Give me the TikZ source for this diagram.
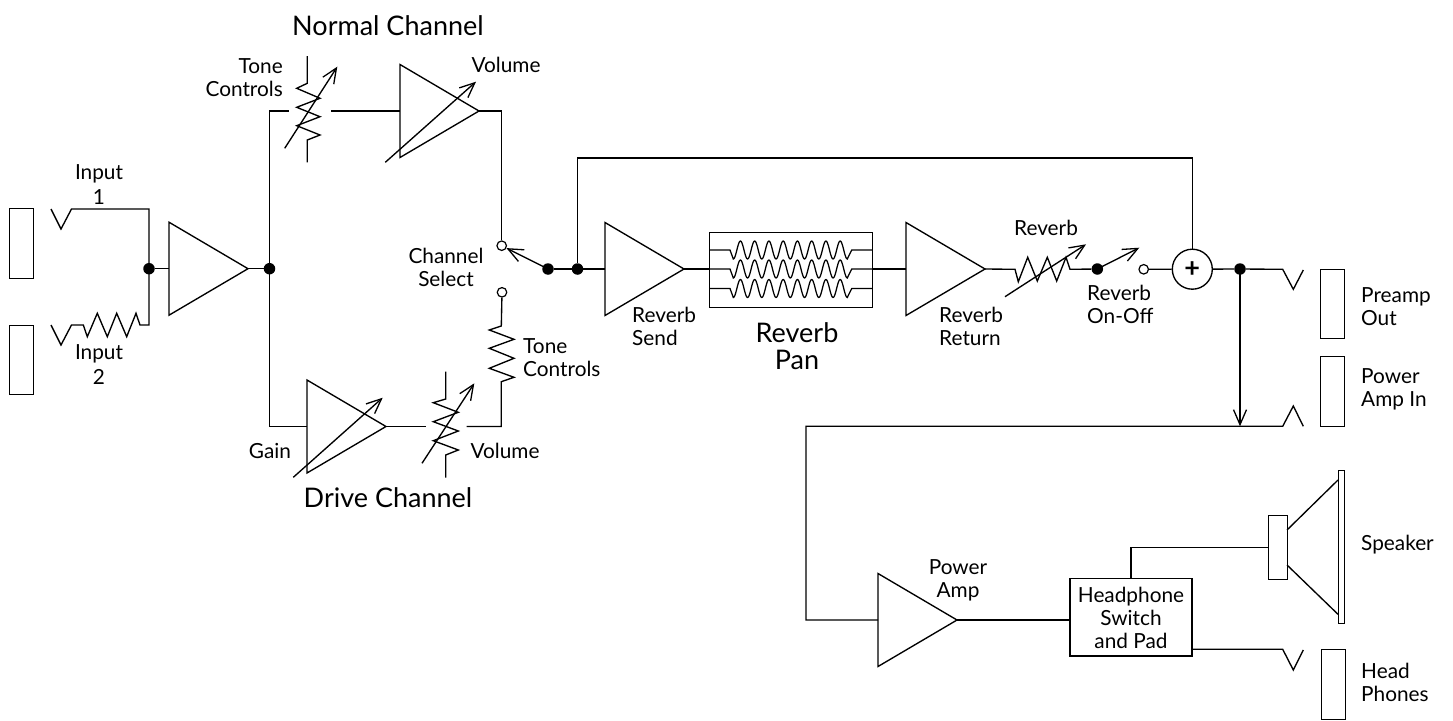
\documentclass[tikz,border=0pt]{standalone}
\usepackage{fontspec}
\setmainfont{Lato}
\usetikzlibrary{arrows.meta}
\tikzset{
  wire/.style={line width=1.35pt,line join=miter,black},
  ctrl/.style={wire,-{Straight Barb[length=15pt,width=13pt,line width=1.3pt]}},
  dotnode/.style={circle,fill=black,inner sep=0pt,minimum size=11.5pt},
  opennode/.style={circle,draw=black,line width=1.2pt,fill=white,inner sep=0pt,minimum size=9.5pt},
  boxnode/.style={draw=black,line width=1.35pt,fill=white,inner sep=0pt},
  lab/.style={inner sep=0pt,font=\fontsize{20.8}{23}\selectfont,text=black},
  big/.style={inner sep=0pt,font=\fontsize{27}{27}\selectfont,text=black}
}
\newcommand{\ampblock}[3]{%
  \coordinate (#1-in) at (#2,#3);
  \coordinate (#1-out) at (#2+79,#3);
  \draw[wire] (#2,#3-46.5) -- (#2+79,#3) -- (#2,#3+46.5) -- cycle;
}
\newcommand{\panline}[1]{%
  \draw[wire,line width=1.25pt] (709.5,#1) -- (730,#1) -- (733.3,#1+9)
    -- plot[domain=733.3:847.3,samples=161,variable=\t] ({\t},{#1+9*cos(25.263*(\t-733.3))})
    -- (851.7,#1) -- (872.5,#1);
}
\begin{document}
\begin{tikzpicture}[x=1pt,y=-1pt]
\useasboundingbox (0,0) rectangle (1453,720);

% jacks
\node[boxnode,minimum width=23.5pt,minimum height=69.5pt] (j1) at (21.5,243.5) {};
\node[boxnode,minimum width=23.5pt,minimum height=69.5pt] (j2) at (21.5,360) {};
\node[boxnode,minimum width=23.5pt,minimum height=69.5pt] (j3) at (1332.5,304) {};
\node[boxnode,minimum width=23.5pt,minimum height=69.5pt] (j4) at (1332.5,391.5) {};
\node[boxnode,minimum width=23.5pt,minimum height=69.5pt] (j5) at (1333.5,684.5) {};

% amplifiers
\ampblock{a1}{169}{268.7}
\ampblock{a2}{400}{111}
\ampblock{a3}{307}{426.5}
\ampblock{a4}{605}{269}
\ampblock{a5}{906}{269}
\ampblock{a6}{878}{620}

% junctions
\node[dotnode] (d1) at (149,268.7) {};
\node[dotnode] (d2) at (269.5,268.7) {};
\node[dotnode] (d3) at (548,269) {};
\node[dotnode] (d4) at (577.5,269) {};
\node[dotnode] (d5) at (1097.3,269) {};
\node[dotnode] (d6) at (1240,269) {};
\node[opennode] (s1) at (501.7,245.7) {};
\node[opennode] (s2) at (502,292.3) {};
\node[opennode] (s3) at (1143.7,269.3) {};
\node[circle,draw=black,line width=1.35pt,inner sep=0pt,minimum size=40pt,font=\fontsize{27}{27}\selectfont\bfseries] (sum) at (1192.3,269.2) {+};
\coordinate (x1) at (149,209);
\coordinate (x2) at (149,325);
\coordinate (x3) at (269.5,111);
\coordinate (x4) at (269.5,426.5);
\coordinate (x5) at (501.7,111);
\coordinate (x6) at (577.5,158);
\coordinate (x7) at (1192.3,158);
\coordinate (x8) at (1240,426.3);
\coordinate (x9) at (806,426.3);
\coordinate (x10) at (806,620);
\coordinate (n1) at (288.7,111);
\coordinate (n2) at (331,111);
\coordinate (n3) at (426,426.5);
\coordinate (n4) at (466.7,426.5);
\coordinate (n5) at (501.3,426.5);

% input side
\draw[wire] (51,209) -- (61,229) -- (71.5,209) -- (x1) -- (x2) -- (140,325) -- (136,313.3) -- (126.7,336.7) -- (116.7,313.3) -- (107.3,336.7) -- (97.3,313.3) -- (87.3,336.7) -- (83.3,325) -- (71.5,325) -- (61,345) -- (51,325);
\draw[wire] (d1) -- (a1-in);
\draw[wire] (a1-out) -- (d2);
\draw[wire] (n1) -- (x3) -- (x4) -- (a3-in);

% normal channel
\draw[wire] (n2) -- (a2-in);
\draw[wire] (a2-out) -- (x5) -- (s1);
\draw[wire] (307.3,56) -- (307.3,83.3) -- (296.7,88.3) -- (320,98.3) -- (296.7,107.3) -- (320,116.7) -- (296.7,125.7) -- (320,135) -- (307.3,140) -- (307.3,162.3);
\draw[ctrl] (284.7,148.3) -- (337.3,66.7);
\draw[ctrl] (385.3,162.3) -- (476,81.7);

% drive channel
\draw[wire] (a3-out) -- (n3);
\draw[wire] (n4) -- (n5) -- (501.3,381.7) -- (514,377.3) -- (489.3,368.3) -- (514,358.3) -- (489.3,348.3) -- (514,339.3) -- (489.3,330) -- (501.3,326) -- (s2);
\draw[wire] (445.7,371.7) -- (445.7,399) -- (433.3,402.7) -- (458.3,412.3) -- (433.3,421.7) -- (458.3,431) -- (433.3,440.7) -- (458.3,450) -- (445.7,455) -- (445.7,477.7);
\draw[ctrl] (422,463.3) -- (474.3,383.3);
\draw[ctrl] (293.3,477.3) -- (382.7,397.7);

% channel select
\draw[ctrl] (d3.center) -- (s1);
\draw[wire] (d3) -- (d4);
\draw[wire] (d4) -- (a4-in);
\draw[wire] (d4) -- (x6) -- (x7) -- (sum);

% reverb
\node[boxnode,minimum width=163.5pt,minimum height=74.5pt] (pan) at (791,270) {};
\draw[wire] (a4-out) -- (pan.west |- a4-out);
\draw[wire] (pan.east |- a5-in) -- (a5-in);
\panline{250}
\panline{269}
\panline{288.5}
\draw[wire] (a5-out) -- (1015,269.3) -- (1018.3,281.7) -- (1027.7,257.3) -- (1037.3,281) -- (1047.3,257.3) -- (1056.7,281) -- (1066,257.3) -- (1070,269.3) -- (d5);
\draw[ctrl] (1005,296.7) -- (1086,244.3);
\draw[ctrl] (d5.center) -- (1139.3,247.7);
\draw[wire] (s3) -- (sum);
\draw[wire] (sum) -- (d6);

% outputs
\draw[wire] (d6) -- (1282.7,269.3) -- (1293.3,289.3) -- (1303.3,270);
\draw[ctrl] (d6.center) -- (x8);
\draw[wire] (1303.3,426.3) -- (1293.3,406) -- (1282.7,426.3) -- (x9) -- (x10) -- (a6-in);

% power section
\node[boxnode,minimum width=122pt,minimum height=77.5pt] (hp) at (1131,617.2) {};
\draw[wire] (a6-out) -- (hp.west |- a6-out);
\node[boxnode,minimum width=18.5pt,minimum height=64.5pt] (mag) at (1278,547.5) {};
\node[boxnode,minimum width=6.5pt,minimum height=152.5pt] (cone) at (1341.5,547) {};
\draw[wire] (hp.north) -- (hp.north |- mag.west) -- (mag.west);
\draw[wire] (1287,530) -- (1338,480);
\draw[wire] (1287,565) -- (1338,614.3);
\draw[wire] (hp.east |- 0,649.3) -- (1282.7,649.3) -- (1293.3,670) -- (1303.3,650);

% labels
\node[big] (t1) at (388,26) {Normal Channel};
\node[big] (t2) at (388,498) {Drive Channel};
\node[big,align=center] (t3) at (797,346) {Reverb\\Pan};
\node[lab,align=center] (l1) at (99,185) {Input\\[2pt]1};
\node[lab,align=center] (l2) at (99,365) {Input\\[2pt]2};
\node[lab,align=right,anchor=east] (l3) at (283,78) {Tone\\Controls};
\node[lab] (l4) at (506,65) {Volume};
\node[lab,align=center] (l5) at (446,267) {Channel\\Select};
\node[lab,align=left,anchor=west] (l6) at (523,358) {Tone\\Controls};
\node[lab] (l7) at (505,451) {Volume};
\node[lab] (l8) at (270,451) {Gain};
\node[lab,align=left,anchor=west] (l9) at (632,326) {Reverb\\Send};
\node[lab,align=left,anchor=west] (l10) at (939,326) {Reverb\\Return};
\node[lab] (l11) at (1046,228) {Reverb};
\node[lab,align=left,anchor=west] (l12) at (1087,304) {Reverb\\On-Off};
\node[lab,align=left,anchor=west] (l13) at (1361,307) {Preamp\\Out};
\node[lab,align=left,anchor=west] (l14) at (1361,389) {Power\\Amp In};
\node[lab,anchor=west] (l15) at (1361,545) {Speaker};
\node[lab,align=left,anchor=west] (l16) at (1361,682.5) {Head\\Phones};
\node[lab,align=center] (l17) at (958,580) {Power\\Amp};
\node[lab,align=center] (l18) at (1131,618) {Headphone\\Switch\\and Pad};
\end{tikzpicture}
\end{document}
